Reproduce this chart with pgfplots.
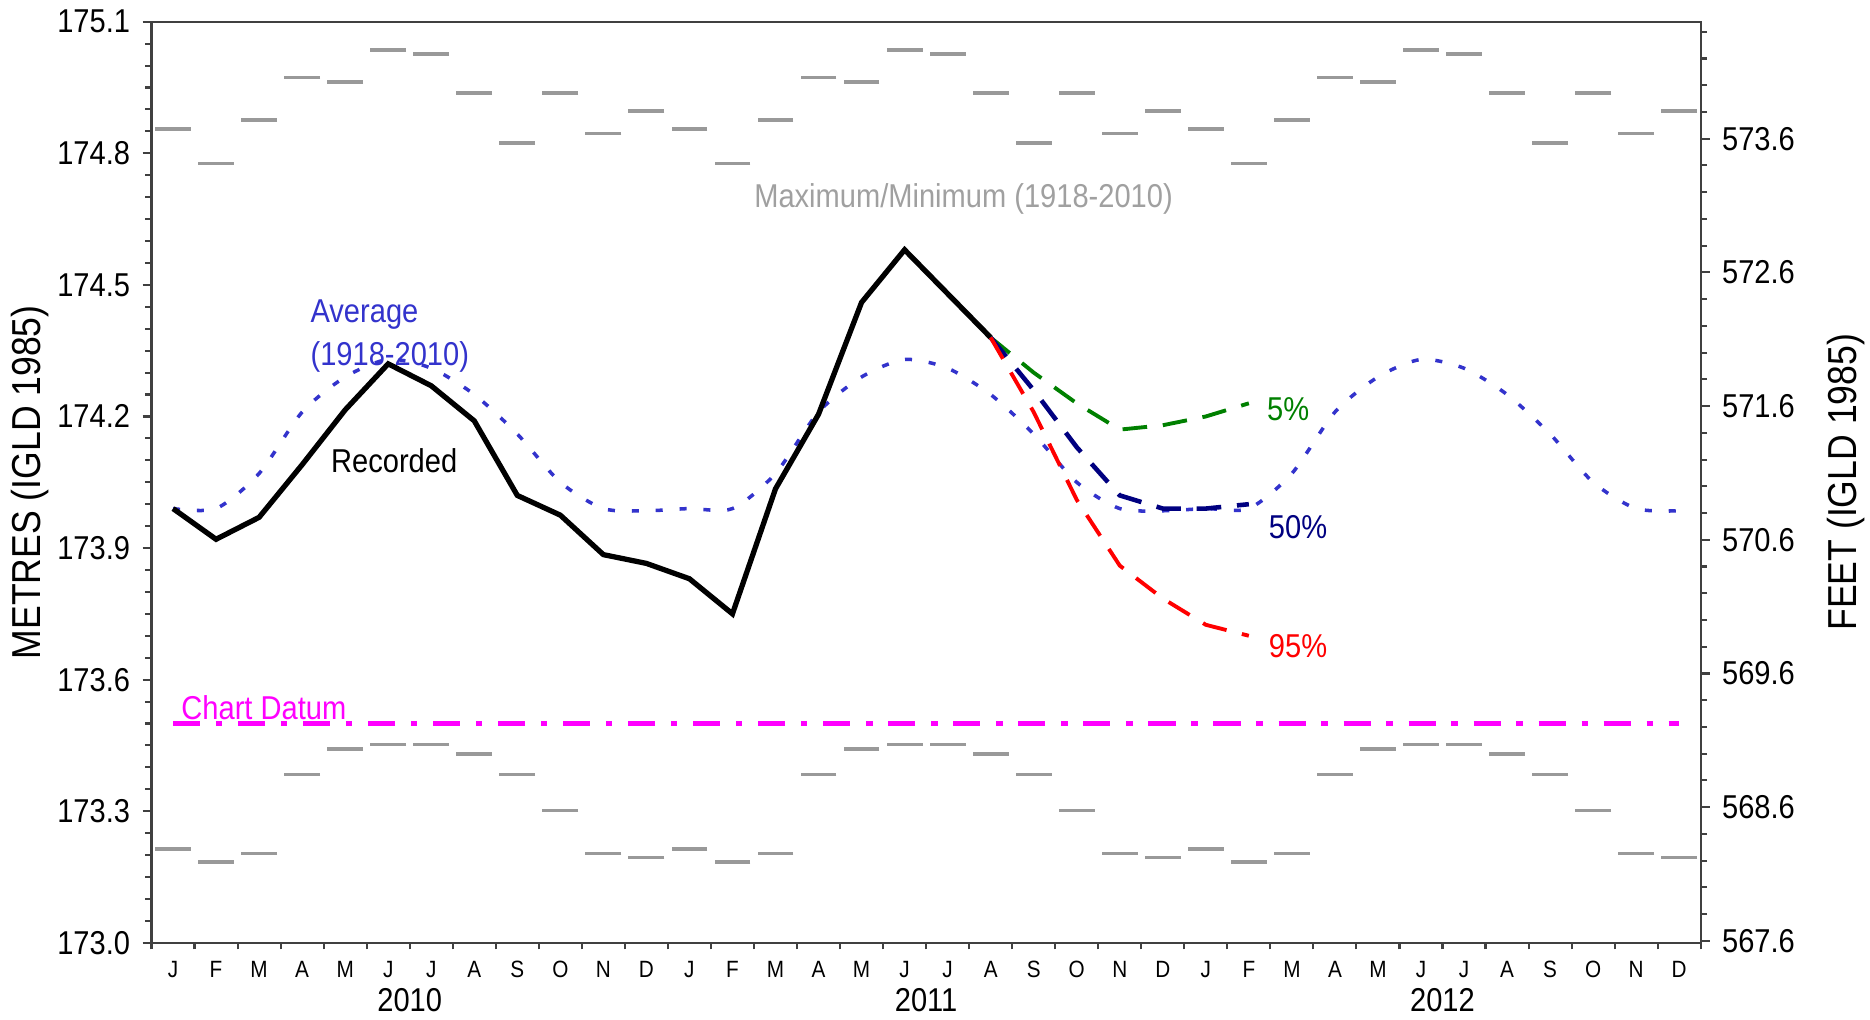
\documentclass[border=0pt]{standalone}
\usepackage{fontspec}
\setmainfont{Liberation Sans}[FakeStretch=0.88]
\usepackage{pgfplots}
\usepackage{pgfplotstable}
\pgfplotsset{compat=1.18}
\usetikzlibrary{calc}

\definecolor{avgblue}{HTML}{3333CC}
\definecolor{navyb}{HTML}{000080}
\definecolor{fgreen}{HTML}{008000}
\definecolor{mgray}{HTML}{999999}
\definecolor{lgray}{HTML}{A0A0A0}
\definecolor{axgray}{HTML}{404040}
\definecolor{datum}{HTML}{FF00FF}
\definecolor{fred}{HTML}{FF0000}

% month index, long-term average, maximum, minimum (1918-2010)
\pgfplotstableread{
m avg hi lo
0 173.99 174.855 173.214
1 173.99 174.777 173.184
2 174.07 174.876 173.204
3 174.21 174.973 173.384
4 174.29 174.963 173.442
5 174.33 175.035 173.452
6 174.31 175.026 173.452
7 174.25 174.937 173.431
8 174.16 174.824 173.384
9 174.05 174.937 173.302
10 173.99 174.845 173.204
11 173.985 174.896 173.194
12 173.99 174.855 173.214
13 173.99 174.777 173.184
14 174.07 174.876 173.204
15 174.21 174.973 173.384
16 174.29 174.963 173.442
17 174.33 175.035 173.452
18 174.31 175.026 173.452
19 174.25 174.937 173.431
20 174.16 174.824 173.384
21 174.05 174.937 173.302
22 173.99 174.845 173.204
23 173.985 174.896 173.194
24 173.99 174.855 173.214
25 173.99 174.777 173.184
26 174.07 174.876 173.204
27 174.21 174.973 173.384
28 174.29 174.963 173.442
29 174.33 175.035 173.452
30 174.31 175.026 173.452
31 174.25 174.937 173.431
32 174.16 174.824 173.384
33 174.05 174.937 173.302
34 173.99 174.845 173.204
35 173.985 174.896 173.194
}\climate

\pgfplotstableread{
m lvl
0 173.99
1 173.92
2 173.97
3 174.09
4 174.215
5 174.32
6 174.27
7 174.19
8 174.02
9 173.975
10 173.885
11 173.865
12 173.83
13 173.75
14 174.035
15 174.205
16 174.46
17 174.58
18 174.48
19 174.38
}\recorded

\begin{document}
\begin{tikzpicture}
\begin{axis}[
  name=main,
  scale only axis,
  width=15.49cm, height=9.21cm,
  xmin=-0.5, xmax=35.5,
  ymin=173.0, ymax=175.1,
  clip=false,
  axis line style={axgray, line width=0.6pt},
  tick align=outside,
  xtick pos=bottom, ytick pos=left,
  xtick={0,...,35},
  xticklabels={J,F,M,A,M,J,J,A,S,O,N,D,J,F,M,A,M,J,J,A,S,O,N,D,J,F,M,A,M,J,J,A,S,O,N,D},
  minor xtick={-0.5,0.5,...,35.5},
  major x tick style={draw=none},
  minor x tick style={axgray, line width=0.6pt},
  ytick={173.0,173.3,173.6,173.9,174.2,174.5,174.8,175.1},
  minor y tick num=5,
  y tick style={axgray, line width=0.6pt},
  major tick length=0.09cm,
  minor tick length=0.065cm,
  yticklabel style={/pgf/number format/.cd, fixed, fixed zerofill, precision=1, 1000 sep={}, assume math mode=true},
  tick label style={font=\fontsize{9.4}{10}\selectfont},
  xticklabel style={font=\fontsize{6.7}{7}\selectfont, yshift=0.03cm},
]
% monthly maximum / minimum bars
\addplot[only marks, mark=-, mark size=5.1pt, mark options={draw=mgray, line width=1pt}] table[x=m, y=hi] {\climate};
\addplot[only marks, mark=-, mark size=5.1pt, mark options={draw=mgray, line width=1pt}] table[x=m, y=lo] {\climate};
% chart datum
\addplot[datum, line width=1.4pt, dash pattern=on 7.7pt off 4.5pt on 1.8pt off 4.5pt] coordinates {(0,173.5) (35,173.5)};
% average
\addplot[avgblue, line width=1pt, smooth, tension=0.45, dash pattern=on 2pt off 4.8pt] table[x=m, y=avg] {\climate};
% recorded
\addplot[black, line width=1.5pt] table[x=m, y=lvl] {\recorded};
% outlooks
\addplot[fgreen, line width=1.1pt, dash pattern=on 7pt off 4.5pt] coordinates {
  (19,174.38) (20,174.30) (21,174.23) (22,174.17) (23,174.18) (24,174.20) (25,174.23)};
\addplot[navyb, line width=1.3pt, dash pattern=on 7pt off 4.5pt] coordinates {
  (19,174.38) (20,174.26) (21,174.13) (22,174.02) (23,173.99) (24,173.99) (25,174.00)};
\addplot[fred, line width=1.1pt, dash pattern=on 7pt off 4.5pt] coordinates {
  (19,174.38) (20,174.21) (21,174.01) (22,173.86) (23,173.785) (24,173.725) (25,173.70)};

\node[font=\fontsize{9.4}{10}\selectfont] at (axis cs:5.14,174.10) {Recorded};
\node[font=\fontsize{9.4}{12.2}\selectfont, text=avgblue, anchor=west, align=left, inner sep=0pt] at (axis cs:3.18,174.383) {Average\\(1918-2010)};
\node[font=\fontsize{9.4}{10}\selectfont, text=lgray] at (axis cs:18.37,174.695) {Maximum/Minimum (1918-2010)};
\node[font=\fontsize{9.4}{10}\selectfont, text=fgreen, anchor=west, inner sep=0pt] at (axis cs:25.41,174.217) {5\%};
\node[font=\fontsize{9.4}{10}\selectfont, text=navyb, anchor=west, inner sep=0pt] at (axis cs:25.45,173.948) {50\%};
\node[font=\fontsize{9.4}{10}\selectfont, text=fred, anchor=west, inner sep=0pt] at (axis cs:25.45,173.676) {95\%};
\node[font=\fontsize{9.4}{10}\selectfont, text=datum, anchor=base west, inner sep=0pt] at (axis cs:0.18,173.51) {Chart Datum};
\node[font=\fontsize{9.4}{10}\selectfont] at (axis cs:5.5,173.0) [yshift=-0.57cm] {2010};
\node[font=\fontsize{9.4}{10}\selectfont] at (axis cs:17.5,173.0) [yshift=-0.57cm] {2011};
\node[font=\fontsize{9.4}{10}\selectfont] at (axis cs:29.5,173.0) [yshift=-0.57cm] {2012};
\end{axis}

\begin{axis}[
  scale only axis,
  width=15.49cm, height=9.21cm,
  xmin=-0.5, xmax=35.5,
  ymin=567.5853, ymax=574.4751,
  axis x line=none,
  axis y line*=right,
  axis line style={axgray, line width=0.6pt, -},
  tick align=outside,
  ytick={567.6,568.6,569.6,570.6,571.6,572.6,573.6},
  minor ytick={567.8,568.0,568.2,568.4,568.8,569.0,569.2,569.4,569.8,570.0,570.2,570.4,570.8,571.0,571.2,571.4,571.8,572.0,572.2,572.4,572.8,573.0,573.2,573.4,573.8,574.0,574.2,574.4},
  y tick style={axgray, line width=0.6pt},
  major tick length=0.09cm,
  minor tick length=0.065cm,
  yticklabel style={/pgf/number format/.cd, fixed, fixed zerofill, precision=1, 1000 sep={}, assume math mode=true},
  tick label style={font=\fontsize{9.4}{10}\selectfont},
]
\addplot[draw=none] coordinates {(0,570)};
\end{axis}

\node[rotate=90, font=\fontsize{11.5}{12}\selectfont] at ($(main.west)+(-1.215cm,0)$) {METRES (IGLD 1985)};
\node[rotate=90, font=\fontsize{11.5}{12}\selectfont] at ($(main.east)+(1.453cm,0)$) {FEET (IGLD 1985)};

\pgfresetboundingbox
\path ($(main.south west)+(-1.515cm,-0.77cm)$) rectangle ($(main.north east)+(1.693cm,0.217cm)$);
\end{tikzpicture}
\end{document}
